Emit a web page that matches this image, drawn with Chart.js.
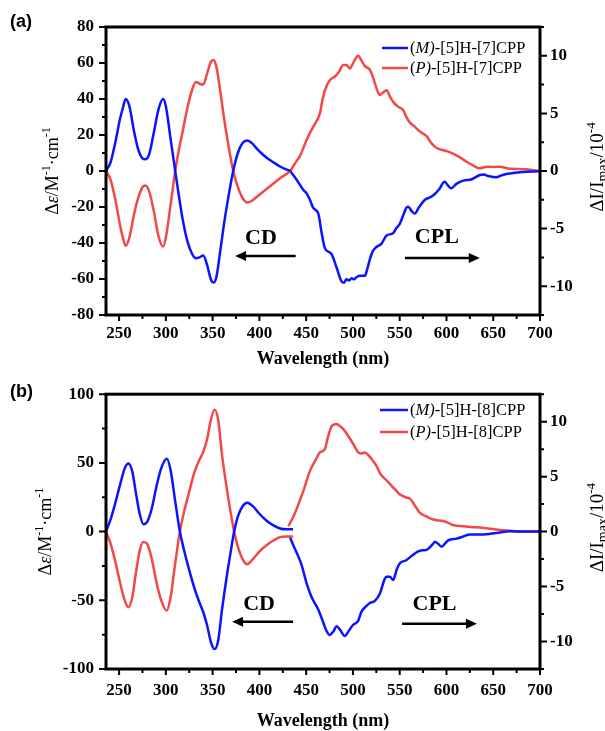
<!DOCTYPE html>
<html><head><meta charset="utf-8">
<script src="https://cdn.jsdelivr.net/npm/chart.js@4.4.1/dist/chart.umd.min.js"></script>
<style>
html,body{margin:0;padding:0;background:#fff;}
#wrap{position:relative;width:605px;height:731px;background:#fff;}
canvas{position:absolute;left:0;}
</style></head><body>
<div id="wrap">
<canvas id="ca" width="605" height="372" style="top:0px"></canvas>
<canvas id="cb" width="605" height="359" style="top:372px"></canvas>
</div>
<script>
// ---------- tick labels ----------
const xTicks = [250,300,350,400,450,500,550,600,650,700];
const xMinor = [275,325,375,425,475,525,575,625,675];
const cdTicksA = [-80,-60,-40,-20,0,20,40,60,80];
const cdMinorA = [-70,-50,-30,-10,10,30,50,70];
const cdTicksB = [-100,-50,0,50,100];
const cdMinorB = [-75,-25,25,75];
const cplTicks = [-10,-5,0,5,10];
const cplMinor = [-12.5,-7.5,-2.5,2.5,7.5,12.5];

// ---------- series names ----------
const namesA = ['[5]H-[7]CPP'];
const namesB = ['[5]H-[8]CPP'];

// ---------- panel (a) CD ----------
const cdWlA = [236,241,246,251,254,257,261,266,271,275,278,282,287,292,297,300,305,310,314,318,323,328,332,336,340,344,348,351,354,358,362,366,372,377,382,387,392,398,404,410,416,422,428,433];
const cdMA  = [0,5,16,29,35,40,36,22,11,7,6.5,9,21,34,40,36,18,0,-14,-27,-39,-46,-48.5,-48,-47,-52,-60,-62,-59,-45,-30,-17,0,10,15.5,17,15.5,12,9,6.5,4.5,2.5,1,0];
const cdPA  = [0,-5,-16,-30,-37,-41.5,-37,-24,-14,-9,-8,-11,-22,-36,-42,-37,-19,0,12,22,35,45,49.5,48.5,48,54,60.5,61.7,58,45,30,17,0,-9,-15,-17.5,-16.5,-14,-11.5,-9,-6.5,-4,-2,0];

// ---------- panel (a) CPL ----------
const cplWlPA = [433,440,443,447,450.5,457.6,464.7,467,470,475.4,480.8,485,489.6,493,496.8,501,505.7,509,512.8,518,522,526,528.8,532,536,540,543,548,553.7,557,561,566,572,579,584,589.5,596.6,601,607,614,621.5,628,635.7,643,650,657,668,678,685.6,692,700];
const cplPA   = [0,0.9,1.25,2.0,2.7,3.85,5.0,6.0,7.0,7.9,8.2,8.6,9.2,9.2,8.9,9.5,10.0,9.6,9.1,8.8,8.0,7.0,6.6,6.8,7.0,6.4,6.0,5.6,5.3,4.7,4.2,3.85,3.4,3.0,2.4,2.0,1.8,1.7,1.5,1.2,0.8,0.5,0.23,0.37,0.35,0.37,0.2,0.18,0.15,0.08,0];
const cplWlMA = [433,440,447,450.5,454,457.6,463,466.6,470,477,482.6,488,490.5,493,496,498.6,501,504,508,512.8,515,518,521,525,530.6,536,543,546,550,554,557,559,563,566,571,577,582,586,592,598,602,605,611,618,627,635.7,640,644.6,653.5,658,664,670,678,692.6,700];
const cplMA   = [0,-0.78,-1.65,-1.94,-2.5,-3.2,-3.7,-5.4,-6.7,-7.2,-8.4,-9.6,-9.7,-9.4,-9.5,-9.3,-9.4,-9.2,-9.1,-9.1,-8.6,-7.7,-7.0,-6.6,-6.3,-5.6,-5.4,-5.0,-4.6,-3.8,-3.2,-3.1,-3.5,-3.7,-3.1,-2.5,-2.3,-2.1,-1.6,-0.93,-1.3,-1.5,-1.1,-0.84,-0.72,-0.35,-0.3,-0.43,-0.55,-0.4,-0.26,-0.2,-0.1,-0.05,0];

// ---------- panel (b) CD ----------
const cdWlB = [236,241,246,251,256,260,264,268,272,276,280,285,290,295,301,305,310,315,320,325,330,335,340,344,348,352,356,360,365,369,373,377,382,387,393,400,408,415,422,429,436];
const cdMB  = [0,9,21,34,46,49.6,44,28,13,5.4,7,17,33,46,53,45,22,0,-15,-28,-40,-50,-58.7,-68,-80,-85.5,-79,-57,-33,-16,0,11,18.5,21,18.5,13,7.7,4.5,2.3,1.7,1.7];
const cdPB  = [0,-9,-22,-37,-50,-55,-48,-30,-14,-7.5,-9,-20,-37,-50,-57.5,-48,-23,0,16,29,42,51,58,67,81,88.6,81,56,32,15,0,-11,-20,-23.8,-20,-14.5,-9.8,-6.5,-4,-3.5,-3.5];

// ---------- panel (b) CPL ----------
const cplWlPB = [431,436,440,447,454,460,464.7,470,473,477,479,482.6,486,490,495,500.5,505.7,509,512.8,517,521,525,529,533,537.7,542,546.6,550,557,561,566,571.6,578,585.8,596.5,602,607,614,621,628,635.7,643,650,657,664,671,678,690,700];
const cplPB   = [0.5,1.3,2.1,3.7,5.5,6.5,7.2,7.5,8.5,9.55,9.7,9.8,9.6,9.3,8.7,7.95,7.2,7.1,7.2,6.9,6.5,6.0,5.3,4.9,4.5,4.1,3.7,3.4,3.1,3.0,2.4,1.7,1.4,1.1,0.96,0.8,0.6,0.5,0.47,0.4,0.38,0.3,0.23,0.15,0.09,0.05,0,0,0];
const cplWlMB = [432.7,436,440,445,450.5,456,463,468,471,475,479,482.6,486,491.5,495,500,505.7,509,514,518,523.5,529,534,536,539.5,543,547,550,557,563,569.7,575,578.6,585.8,587.6,591,594.7,601.8,610.8,618,625,639,653.5,668,685,700];
const cplMB   = [-0.5,-1.2,-1.95,-3.0,-4.7,-6.0,-7.1,-8.2,-8.9,-9.4,-9.1,-8.6,-8.9,-9.5,-9.1,-8.5,-8.1,-7.3,-6.8,-6.5,-6.3,-5.6,-4.3,-4.1,-4.1,-4.4,-3.4,-2.9,-2.6,-2.2,-1.8,-1.7,-1.66,-1.1,-0.93,-1.1,-1.37,-0.79,-0.64,-0.45,-0.26,-0.26,-0.12,0.03,0,0];

// ---------- styling ----------
const BLUE = '#0a14ff';
const RED = '#f24848';
const SERIF = '"Liberation Serif", "Times New Roman", serif';
const SANS = '"Liberation Sans", Arial, sans-serif';

function pts(xs, ys){ return xs.map((x,i)=>({x:x, y:ys[i]})); }

function richText(ctx, segs, x, y){
  let w = 0;
  segs.forEach(s=>{ ctx.font = s.f; s.w = ctx.measureText(s.t).width; w += s.w; });
  let cx = x - w/2;
  segs.forEach(s=>{ ctx.font = s.f; ctx.fillText(s.t, cx, y + (s.dy||0)); cx += s.w; });
}
function leftText(ctx, segs, x, y){
  let cx = x;
  segs.forEach(s=>{ ctx.font = s.f; ctx.fillText(s.t, cx, y + (s.dy||0)); cx += ctx.measureText(s.t).width; });
}

function arrow(ctx, x1, x2, y){
  ctx.save();
  ctx.strokeStyle = '#000'; ctx.fillStyle = '#000'; ctx.lineWidth = 2.5;
  const dir = Math.sign(x2 - x1);
  ctx.beginPath(); ctx.moveTo(x1, y); ctx.lineTo(x2 - dir*8, y); ctx.stroke();
  ctx.beginPath(); ctx.moveTo(x2, y); ctx.lineTo(x2 - dir*11, y - 5); ctx.lineTo(x2 - dir*11, y + 5); ctx.closePath(); ctx.fill();
  ctx.restore();
}

function makeChart(id, cfg){
  const deco = {
    id: 'deco',
    afterDraw(chart){
      const ctx = chart.ctx;
      const a = chart.chartArea;
      const sx = chart.scales.x, sy = chart.scales.y, sy2 = chart.scales.y2;
      ctx.save();
      // frame
      ctx.strokeStyle = '#000'; ctx.lineWidth = 3;
      ctx.strokeRect(a.left, a.top, a.right - a.left, a.bottom - a.top);
      // ticks
      ctx.lineWidth = 2;
      ctx.beginPath();
      const tx = (vals, len)=>vals.forEach(v=>{ const p = sx.getPixelForValue(v); ctx.moveTo(p, a.bottom); ctx.lineTo(p, a.bottom + len); });
      const tl = (vals, len)=>vals.forEach(v=>{ const p = sy.getPixelForValue(v); ctx.moveTo(a.left, p); ctx.lineTo(a.left - len, p); });
      const tr = (vals, len)=>vals.forEach(v=>{ const p = sy2.getPixelForValue(v); ctx.moveTo(a.right, p); ctx.lineTo(a.right + len, p); });
      tx(xTicks, 6); tx(xMinor, 4);
      tl(cfg.yTicks, 7); tl(cfg.yMinor, 4);
      tr(cplTicks, 7); tr(cplMinor, 4);
      ctx.stroke();
      ctx.fillStyle = '#000';
      // panel label
      ctx.font = 'bold 18px ' + SANS; ctx.textAlign = 'left'; ctx.textBaseline = 'middle';
      ctx.fillText(cfg.panel, 10, cfg.panelY);
      // x title
      ctx.font = 'bold 18px ' + SERIF; ctx.textAlign = 'center'; ctx.textBaseline = 'middle';
      ctx.fillText('Wavelength (nm)', (a.left + a.right)/2, cfg.xTitleY);
      // y titles
      ctx.textAlign = 'left'; ctx.textBaseline = 'alphabetic';
      const yc = (a.top + a.bottom)/2;
      ctx.save();
      ctx.translate(cfg.yTitleX, yc); ctx.rotate(-Math.PI/2);
      richText(ctx, [
        {t:'\u0394', f:'18px ' + SERIF},
        {t:'\u03b5', f:'italic 18px ' + SERIF},
        {t:'/M', f:'18px ' + SERIF},
        {t:'-1', f:'12px ' + SERIF, dy:-8},
        {t:'\u00b7cm', f:'18px ' + SERIF},
        {t:'-1', f:'12px ' + SERIF, dy:-8}
      ], 0, 0);
      ctx.restore();
      ctx.save();
      ctx.translate(603, yc - 4); ctx.rotate(-Math.PI/2);
      richText(ctx, [
        {t:'\u0394I/I', f:'19px ' + SERIF},
        {t:'max', f:'14px ' + SERIF, dy:4},
        {t:'/10', f:'19px ' + SERIF},
        {t:'-4', f:'13px ' + SERIF, dy:-8}
      ], 0, 0);
      ctx.restore();
      // legend
      const lg = cfg.legend;
      [['M', BLUE], ['P', RED]].forEach((e, i)=>{
        const y = lg.y + i*lg.dy;
        ctx.strokeStyle = e[1]; ctx.lineWidth = 2.5;
        ctx.beginPath(); ctx.moveTo(lg.x1, y); ctx.lineTo(lg.x2, y); ctx.stroke();
        ctx.fillStyle = '#000';
        leftText(ctx, [
          {t:'(', f:'16.5px ' + SERIF},
          {t:e[0] + ')', f:'italic 16.5px ' + SERIF},
          {t:'-' + cfg.name, f:'16.5px ' + SERIF}
        ], lg.x2 + 2, y + 5);
      });
      // annotations
      ctx.fillStyle = '#000';
      ctx.font = 'bold 22px ' + SERIF; ctx.textAlign = 'center'; ctx.textBaseline = 'middle';
      const c = cfg.ann;
      ctx.fillText('CD', sx.getPixelForValue(c.cd.x), sy.getPixelForValue(c.cd.y));
      arrow(ctx, sx.getPixelForValue(c.cd.a1), sx.getPixelForValue(c.cd.a2), sy.getPixelForValue(c.cd.ay));
      ctx.fillText('CPL', sx.getPixelForValue(c.cpl.x), sy2.getPixelForValue(c.cpl.y));
      arrow(ctx, sx.getPixelForValue(c.cpl.a1), sx.getPixelForValue(c.cpl.a2), sy2.getPixelForValue(c.cpl.ay));
      ctx.restore();
    }
  };
  const tickFont = {family: SERIF, size: 17, weight: 'bold'};
  const ds = (data, color, axis)=>({data: data, borderColor: color, backgroundColor: color, yAxisID: axis, borderWidth: 2.5, pointRadius: 0, fill: false, tension: 0.4, cubicInterpolationMode: 'monotone'});
  return new Chart(document.getElementById(id), {
    type: 'line',
    data: {datasets: [
      ds(pts(cfg.cdWl, cfg.cdM), BLUE, 'y'),
      ds(pts(cfg.cdWl, cfg.cdP), RED, 'y'),
      ds(pts(cfg.cplWlM, cfg.cplM), BLUE, 'y2'),
      ds(pts(cfg.cplWlP, cfg.cplP), RED, 'y2')
    ]},
    options: {
      responsive: false, animation: false, devicePixelRatio: 1,
      layout: {padding: {top: cfg.top, left: 0, right: 0, bottom: 0}},
      plugins: {legend: {display: false}, tooltip: {enabled: false}},
      scales: {
        x: {type: 'linear', min: 236, max: 700,
            afterBuildTicks: s=>{ s.ticks = xTicks.map(v=>({value: v})); },
            afterFit: s=>{ s.height = cfg.xh; },
            grid: {display: false, drawTicks: false}, border: {display: false},
            ticks: {font: tickFont, color: '#000', padding: cfg.xpad, maxRotation: 0, autoSkip: false}},
        y: {type: 'linear', position: 'left', min: cfg.yMin, max: cfg.yMax,
            afterBuildTicks: s=>{ s.ticks = cfg.yTicks.map(v=>({value: v})); },
            afterFit: s=>{ s.width = 106; },
            grid: {display: false, drawTicks: false}, border: {display: false},
            ticks: {font: tickFont, color: '#000', padding: 12}},
        y2: {type: 'linear', position: 'right', min: -12.5, max: 12.5,
            afterBuildTicks: s=>{ s.ticks = cplTicks.map(v=>({value: v})); },
            afterFit: s=>{ s.width = 65; },
            grid: {display: false, drawTicks: false}, border: {display: false},
            ticks: {font: tickFont, color: '#000', padding: 10}}
      }
    },
    plugins: [deco]
  });
}

makeChart('ca', {
  panel: '(a)', panelY: 22, name: namesA[0], top: 27, xh: 57, xpad: 8, xTitleY: 359,
  yMin: -80, yMax: 80, yTicks: cdTicksA, yMinor: cdMinorA, yTitleX: 58,
  cdWl: cdWlA, cdM: cdMA, cdP: cdPA, cplWlM: cplWlMA, cplM: cplMA, cplWlP: cplWlPA, cplP: cplPA,
  legend: {x1: 382, x2: 408, y: 48, dy: 20},
  ann: {cd: {x: 401.7, y: -37.2, a1: 438.8, a2: 374, ay: -47.2},
        cpl: {x: 589.7, y: -5.74, a1: 555.6, a2: 635.6, ay: -7.55}}
});
makeChart('cb', {
  panel: '(b)', panelY: 20, name: namesB[0], top: 11, xh: 62, xpad: 11, xTitleY: 349,
  yMin: -100, yMax: 100, yTicks: cdTicksB, yMinor: cdMinorB, yTitleX: 51,
  cdWl: cdWlB, cdM: cdMB, cdP: cdPB, cplWlM: cplWlMB, cplM: cplMB, cplWlP: cplWlPB, cplP: cplPB,
  legend: {x1: 380, x2: 408, y: 38, dy: 22},
  ann: {cd: {x: 399.6, y: -53.1, a1: 436, a2: 370.8, ay: -65.7},
        cpl: {x: 587.2, y: -6.64, a1: 552.5, a2: 632.6, ay: -8.39}}
});
</script>
</body></html>
